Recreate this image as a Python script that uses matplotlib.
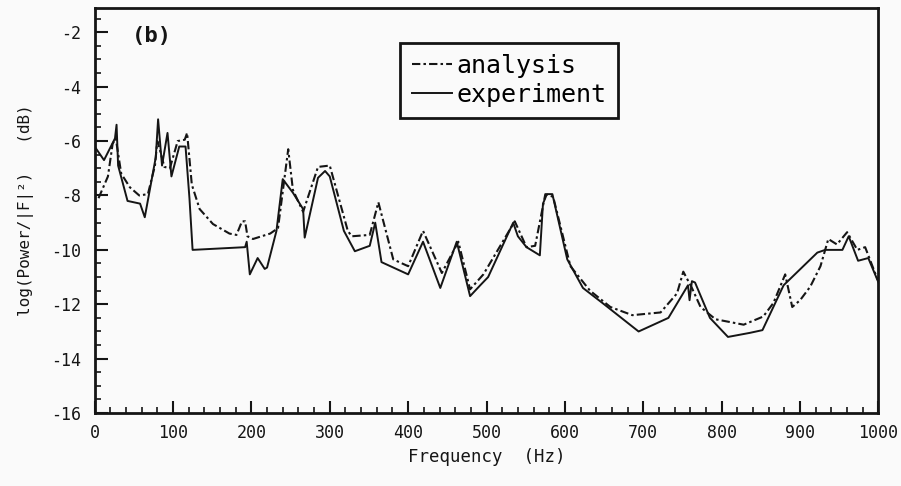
import matplotlib
matplotlib.use("Agg")
import matplotlib.pyplot as plt
from matplotlib.ticker import MultipleLocator

# ---- data ----
analysis_f = [5, 17, 23, 27, 34, 45, 57, 68, 77, 80, 84, 89, 96, 106, 115, 118, 124, 134, 151,
              172, 181, 188, 192, 195, 202, 224, 234, 247, 253, 266, 285, 300, 323, 328, 351,
              362, 381, 400, 419, 443, 464, 479, 496, 536, 551, 562, 575, 585, 607, 632, 658,
              686, 722, 743, 751, 762, 773, 792, 828, 853, 866, 881, 890, 900, 913, 926, 936,
              947, 960, 973, 983, 999]
analysis_db = [-8.1, -7.3, -6.1, -5.9, -7.2, -7.7, -8.0, -7.95, -6.9, -6.0, -6.4, -6.95, -7.0,
               -6.0, -5.95, -5.7, -7.6, -8.5, -9.05, -9.4, -9.45, -8.95, -8.95, -9.5, -9.6,
               -9.4, -9.2, -6.3, -7.8, -8.6, -6.95, -6.9, -9.3, -9.5, -9.45, -8.25, -10.35,
               -10.6, -9.3, -10.85, -9.7, -11.45, -10.9, -8.95, -9.9, -9.85, -7.95, -8.05,
               -10.6, -11.5, -12.1, -12.4, -12.3, -11.6, -10.8, -11.4, -12.1, -12.55, -12.75,
               -12.45, -11.95, -10.9, -12.1, -11.85, -11.35, -10.6, -9.6, -9.8, -9.35, -10.0,
               -9.9, -11.1]

experiment_f = [0, 12, 26, 28, 30, 42, 58, 64, 78, 81, 86, 93, 98, 108, 116, 121, 125, 192, 194,
                198, 208, 217, 220, 232, 240, 253, 266, 268, 285, 294, 300, 318, 332, 351, 358,
                366, 400, 419, 441, 462, 479, 492, 502, 534, 540, 551, 568, 572, 577, 584, 603,
                623, 650, 694, 732, 757, 759, 762, 766, 785, 808, 836, 852, 879, 922, 932, 954,
                962, 974, 987, 1000]
experiment_db = [-6.2, -6.7, -5.9, -5.4, -6.9, -8.2, -8.3, -8.8, -6.6, -5.2, -6.9, -5.7, -7.3,
                 -6.2, -6.2, -8.1, -10.0, -9.9, -9.7, -10.9, -10.3, -10.7, -10.65, -9.3, -7.4,
                 -7.9, -8.5, -9.55, -7.35, -7.1, -7.3, -9.3, -10.05, -9.85, -9.0, -10.45, -10.9,
                 -9.7, -11.4, -9.7, -11.7, -11.3, -11.0, -9.0, -9.5, -9.9, -10.2, -8.3, -7.95,
                 -7.95, -10.35, -11.4, -12.0, -13.0, -12.5, -11.3, -11.85, -11.15, -11.2, -12.5,
                 -13.2, -13.05, -12.95, -11.3, -10.1, -10.0, -10.0, -9.5, -10.4, -10.3, -11.2]

x_ticks = [0, 100, 200, 300, 400, 500, 600, 700, 800, 900, 1000]
y_ticks = [-16, -14, -12, -10, -8, -6, -4, -2]

FONT = "DejaVu Sans Mono"
INK = "#151515"
BG = "#fafafa"

fig = plt.figure(figsize=(9.01, 4.86), dpi=100, facecolor=BG)
ax = fig.add_axes([0.105, 0.150, 0.870, 0.834], facecolor=BG)

ax.plot(analysis_f, analysis_db, color=INK, lw=1.5, linestyle=(0, (4, 1.5, 1.2, 1.5)),
        label="analysis")
ax.plot(experiment_f, experiment_db, color=INK, lw=1.4, label="experiment")

ax.set_xlim(0, 1000)
ax.set_ylim(-16, -1.1)
ax.set_xticks(x_ticks)
ax.set_yticks(y_ticks)
ax.set_xticklabels([str(t) for t in x_ticks], fontfamily=FONT, fontsize=12, color=INK)
ax.set_yticklabels([str(t) for t in y_ticks], fontfamily=FONT, fontsize=12, color=INK)
ax.xaxis.set_minor_locator(MultipleLocator(20))
ax.yaxis.set_minor_locator(MultipleLocator(0.5))
ax.tick_params(axis="both", which="major", direction="in", length=9, width=1.5, color=INK)
ax.tick_params(axis="both", which="minor", direction="in", length=4, width=1.2, color=INK)
ax.tick_params(axis="x", which="major", pad=8)
ax.tick_params(axis="y", which="major", pad=10)
ax.tick_params(top=False, right=False, which="both")
for s in ax.spines.values():
    s.set_linewidth(2.0)
    s.set_color(INK)

ax.set_xlabel("Frequency  (Hz)", fontfamily=FONT, fontsize=12.5, color=INK, labelpad=4)
ax.set_ylabel("log(Power/|F|²)   (dB)", fontfamily=FONT, fontsize=11.5, color=INK, labelpad=12)

ax.text(0.047, 0.93, "(b)", transform=ax.transAxes, fontfamily=FONT, fontsize=16,
        fontweight="bold", color=INK, va="center", ha="left")

leg = ax.legend(loc="upper left", bbox_to_anchor=(0.39, 0.914), frameon=True, fancybox=False,
                prop={"family": FONT, "size": 18}, handlelength=1.6, handletextpad=0.2,
                borderpad=0.45, labelspacing=0.2, borderaxespad=0)
leg.get_frame().set_edgecolor(INK)
leg.get_frame().set_linewidth(2.0)
leg.get_frame().set_facecolor(BG)
leg.get_frame().set_alpha(1)

fig.savefig("out.png", dpi=100, facecolor=BG)
